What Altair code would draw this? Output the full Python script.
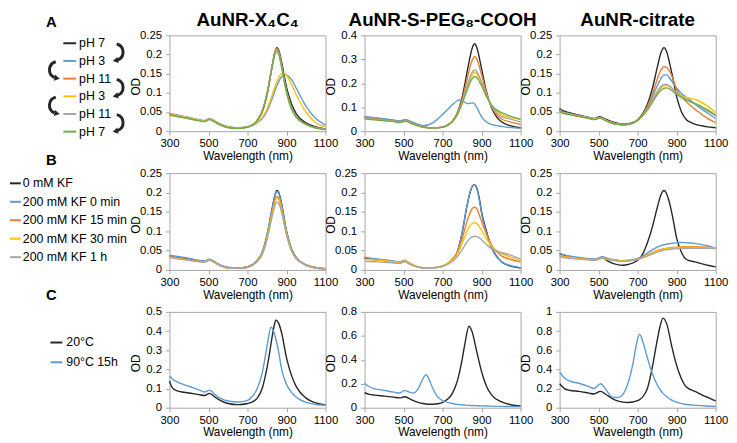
import altair as alt
import pandas as pd

FONT = "Liberation Sans"
BLACK = "#262626"
BLUE = "#5B9BD5"
ORANGE = "#ED7D31"
YELLOW = "#FFC000"
GREY = "#A5A5A5"
GREEN = "#70AD47"
PALETTE = [BLACK, BLUE, ORANGE, YELLOW, GREY, GREEN]

COL_TITLES = ["AuNR-X\u2084C\u2084", "AuNR-S-PEG\u2088-COOH", "AuNR-citrate"]
A_LABELS = ["pH 7", "pH 3", "pH 11", "pH 3", "pH 11", "pH 7"]
B_LABELS = ["0 mM KF", "200 mM KF 0 min", "200 mM KF 15 min", "200 mM KF 30 min", "200 mM KF 1 h"]
C_LABELS = ["20\u00b0C", "90\u00b0C 15h"]

X_TICKS = [300, 500, 700, 900, 1100]
Y_TICKS_025 = [0, 0.05, 0.1, 0.15, 0.2, 0.25]
Y_TICKS_04 = [0, 0.1, 0.2, 0.3, 0.4]
Y_TICKS_05 = [0, 0.1, 0.2, 0.3, 0.4, 0.5]
Y_TICKS_08 = [0, 0.2, 0.4, 0.6, 0.8]
Y_TICKS_1 = [0, 0.2, 0.4, 0.6, 0.8, 1]

# ---------------- Row A : pH cycling ----------------
A1_WL = [300, 350, 400, 450, 480, 505, 530, 560, 600, 650, 700, 750, 775, 800, 825, 840, 850, 860, 875, 890, 900, 925, 950, 1000, 1050, 1100]
A1_PH7 = [0.045, 0.040, 0.035, 0.029, 0.027, 0.032, 0.026, 0.018, 0.011, 0.008, 0.011, 0.028, 0.050, 0.095, 0.165, 0.205, 0.218, 0.212, 0.180, 0.140, 0.115, 0.072, 0.045, 0.022, 0.011, 0.006]
A1_PH3 = [0.046, 0.041, 0.036, 0.030, 0.028, 0.033, 0.027, 0.019, 0.012, 0.009, 0.011, 0.022, 0.033, 0.052, 0.083, 0.105, 0.118, 0.130, 0.142, 0.148, 0.147, 0.135, 0.112, 0.065, 0.033, 0.016]
A1_PH11 = [0.044, 0.039, 0.034, 0.028, 0.026, 0.031, 0.025, 0.017, 0.010, 0.008, 0.011, 0.029, 0.052, 0.098, 0.168, 0.206, 0.216, 0.208, 0.173, 0.130, 0.105, 0.062, 0.038, 0.018, 0.009, 0.005]
A1_PH3B = [0.045, 0.040, 0.035, 0.029, 0.027, 0.032, 0.026, 0.018, 0.011, 0.008, 0.011, 0.024, 0.036, 0.058, 0.092, 0.115, 0.128, 0.140, 0.150, 0.151, 0.146, 0.122, 0.095, 0.050, 0.022, 0.011]
A1_PH11B = [0.043, 0.038, 0.033, 0.028, 0.026, 0.031, 0.025, 0.017, 0.010, 0.008, 0.011, 0.029, 0.052, 0.097, 0.166, 0.203, 0.212, 0.205, 0.171, 0.128, 0.104, 0.061, 0.037, 0.018, 0.009, 0.005]
A1_PH7B = [0.042, 0.037, 0.032, 0.027, 0.025, 0.030, 0.024, 0.016, 0.009, 0.007, 0.010, 0.028, 0.051, 0.097, 0.165, 0.200, 0.208, 0.200, 0.166, 0.124, 0.100, 0.058, 0.036, 0.017, 0.008, 0.004]

A2_WL = [300, 350, 400, 450, 480, 510, 540, 570, 600, 650, 700, 725, 750, 775, 790, 800, 815, 830, 845, 855, 865, 875, 890, 900, 925, 950, 975, 1000, 1050, 1100]
A2_PH7 = [0.060, 0.054, 0.050, 0.045, 0.041, 0.046, 0.036, 0.026, 0.019, 0.014, 0.017, 0.025, 0.042, 0.075, 0.110, 0.140, 0.200, 0.265, 0.325, 0.355, 0.365, 0.350, 0.300, 0.260, 0.165, 0.100, 0.062, 0.040, 0.022, 0.014]
A2_PH3 = [0.062, 0.056, 0.051, 0.046, 0.043, 0.048, 0.040, 0.030, 0.023, 0.035, 0.070, 0.090, 0.110, 0.127, 0.131, 0.128, 0.120, 0.115, 0.117, 0.118, 0.113, 0.100, 0.075, 0.060, 0.038, 0.028, 0.023, 0.020, 0.015, 0.012]
A2_PH11 = [0.058, 0.052, 0.048, 0.043, 0.039, 0.044, 0.035, 0.025, 0.018, 0.014, 0.017, 0.025, 0.041, 0.072, 0.105, 0.130, 0.180, 0.232, 0.280, 0.302, 0.312, 0.302, 0.265, 0.235, 0.160, 0.105, 0.070, 0.052, 0.038, 0.028]
A2_PH3B = [0.055, 0.049, 0.045, 0.041, 0.037, 0.042, 0.033, 0.024, 0.017, 0.013, 0.016, 0.024, 0.040, 0.069, 0.098, 0.118, 0.155, 0.192, 0.225, 0.240, 0.245, 0.240, 0.218, 0.200, 0.150, 0.110, 0.085, 0.070, 0.058, 0.047]
A2_PH11B = [0.056, 0.050, 0.046, 0.042, 0.038, 0.043, 0.034, 0.024, 0.017, 0.013, 0.016, 0.024, 0.040, 0.070, 0.100, 0.120, 0.160, 0.200, 0.235, 0.250, 0.255, 0.250, 0.225, 0.205, 0.150, 0.105, 0.078, 0.062, 0.050, 0.038]
A2_PH7B = [0.052, 0.047, 0.043, 0.040, 0.036, 0.041, 0.032, 0.023, 0.016, 0.013, 0.016, 0.024, 0.040, 0.068, 0.095, 0.113, 0.148, 0.180, 0.210, 0.223, 0.228, 0.224, 0.205, 0.190, 0.145, 0.110, 0.090, 0.078, 0.062, 0.050]

A3_WL = [300, 310, 350, 400, 450, 480, 505, 530, 560, 600, 630, 660, 700, 725, 750, 775, 800, 820, 835, 850, 865, 880, 900, 925, 950, 975, 1000, 1050, 1100]
A3_PH7 = [0.060, 0.055, 0.048, 0.042, 0.036, 0.033, 0.038, 0.033, 0.026, 0.020, 0.018, 0.020, 0.030, 0.045, 0.070, 0.110, 0.165, 0.205, 0.218, 0.205, 0.175, 0.140, 0.090, 0.050, 0.030, 0.022, 0.017, 0.012, 0.009]
A3_PH3 = [0.058, 0.052, 0.046, 0.040, 0.035, 0.032, 0.036, 0.031, 0.024, 0.018, 0.017, 0.019, 0.029, 0.042, 0.062, 0.088, 0.118, 0.138, 0.147, 0.147, 0.138, 0.127, 0.112, 0.098, 0.088, 0.079, 0.068, 0.050, 0.033]
A3_PH11 = [0.056, 0.051, 0.045, 0.040, 0.035, 0.032, 0.036, 0.031, 0.024, 0.018, 0.017, 0.019, 0.029, 0.043, 0.065, 0.095, 0.135, 0.160, 0.168, 0.166, 0.155, 0.138, 0.108, 0.090, 0.077, 0.065, 0.055, 0.036, 0.022]
A3_PH3B = [0.054, 0.049, 0.044, 0.039, 0.034, 0.031, 0.035, 0.030, 0.023, 0.018, 0.017, 0.019, 0.028, 0.040, 0.056, 0.077, 0.100, 0.113, 0.118, 0.119, 0.116, 0.110, 0.101, 0.093, 0.088, 0.085, 0.082, 0.068, 0.048]
A3_PH11B = [0.055, 0.050, 0.044, 0.039, 0.034, 0.031, 0.035, 0.030, 0.023, 0.018, 0.017, 0.019, 0.028, 0.040, 0.058, 0.080, 0.103, 0.117, 0.122, 0.122, 0.118, 0.110, 0.100, 0.090, 0.082, 0.076, 0.070, 0.055, 0.040]
A3_PH7B = [0.052, 0.048, 0.043, 0.038, 0.033, 0.030, 0.034, 0.029, 0.022, 0.017, 0.016, 0.018, 0.028, 0.040, 0.055, 0.075, 0.095, 0.107, 0.112, 0.113, 0.110, 0.104, 0.096, 0.088, 0.081, 0.076, 0.071, 0.058, 0.042]

# ---------------- Row B : KF ----------------
B1_WL = [300, 350, 400, 450, 480, 505, 530, 560, 600, 650, 700, 750, 775, 800, 825, 840, 850, 860, 875, 900, 925, 950, 1000, 1050, 1100]
B1_KF0 = [0.035, 0.031, 0.027, 0.023, 0.022, 0.027, 0.021, 0.012, 0.006, 0.005, 0.008, 0.025, 0.045, 0.090, 0.155, 0.192, 0.205, 0.200, 0.170, 0.100, 0.055, 0.032, 0.013, 0.006, 0.003]
B1_0MIN = [0.038, 0.034, 0.030, 0.025, 0.023, 0.028, 0.022, 0.013, 0.007, 0.005, 0.008, 0.025, 0.045, 0.090, 0.154, 0.190, 0.203, 0.198, 0.168, 0.100, 0.055, 0.032, 0.013, 0.006, 0.003]
B1_15MIN = [0.034, 0.030, 0.026, 0.022, 0.021, 0.026, 0.020, 0.011, 0.005, 0.004, 0.007, 0.023, 0.042, 0.085, 0.145, 0.178, 0.190, 0.186, 0.158, 0.095, 0.052, 0.030, 0.012, 0.005, 0.002]
B1_30MIN = [0.033, 0.029, 0.025, 0.022, 0.021, 0.026, 0.020, 0.011, 0.005, 0.004, 0.007, 0.023, 0.041, 0.083, 0.142, 0.174, 0.186, 0.182, 0.155, 0.093, 0.051, 0.030, 0.012, 0.005, 0.002]
B1_1H = [0.032, 0.028, 0.025, 0.021, 0.020, 0.025, 0.019, 0.011, 0.005, 0.004, 0.007, 0.022, 0.039, 0.078, 0.135, 0.165, 0.175, 0.172, 0.148, 0.090, 0.050, 0.029, 0.012, 0.005, 0.002]

B2_WL = [300, 350, 400, 450, 480, 505, 530, 560, 600, 650, 700, 750, 775, 800, 825, 845, 855, 865, 875, 890, 900, 925, 950, 1000, 1050, 1100]
B2_KF0 = [0.030, 0.027, 0.025, 0.022, 0.020, 0.024, 0.017, 0.010, 0.006, 0.006, 0.010, 0.028, 0.045, 0.095, 0.165, 0.207, 0.218, 0.220, 0.212, 0.180, 0.150, 0.100, 0.060, 0.022, 0.010, 0.005]
B2_0MIN = [0.033, 0.029, 0.026, 0.023, 0.021, 0.025, 0.018, 0.010, 0.006, 0.006, 0.010, 0.028, 0.046, 0.096, 0.166, 0.207, 0.218, 0.220, 0.210, 0.176, 0.145, 0.095, 0.057, 0.022, 0.011, 0.006]
B2_15MIN = [0.028, 0.026, 0.024, 0.021, 0.020, 0.023, 0.017, 0.010, 0.006, 0.006, 0.010, 0.028, 0.045, 0.080, 0.125, 0.152, 0.160, 0.162, 0.158, 0.140, 0.125, 0.092, 0.065, 0.037, 0.027, 0.020]
B2_30MIN = [0.028, 0.026, 0.024, 0.021, 0.020, 0.023, 0.017, 0.010, 0.006, 0.006, 0.010, 0.026, 0.040, 0.068, 0.100, 0.117, 0.121, 0.122, 0.120, 0.110, 0.102, 0.080, 0.062, 0.043, 0.033, 0.023]
B2_1H = [0.022, 0.021, 0.020, 0.018, 0.017, 0.021, 0.015, 0.009, 0.005, 0.005, 0.009, 0.022, 0.034, 0.052, 0.072, 0.083, 0.086, 0.087, 0.086, 0.082, 0.078, 0.066, 0.055, 0.045, 0.038, 0.027]

B3_WL = [300, 350, 400, 450, 480, 520, 550, 600, 625, 650, 700, 725, 750, 775, 800, 820, 835, 850, 865, 880, 900, 925, 950, 1000, 1050, 1100]
B3_KF0 = [0.042, 0.034, 0.031, 0.028, 0.027, 0.032, 0.022, 0.013, 0.012, 0.014, 0.025, 0.040, 0.070, 0.110, 0.160, 0.195, 0.205, 0.195, 0.170, 0.135, 0.082, 0.045, 0.027, 0.020, 0.013, 0.008]
B3_0MIN = [0.042, 0.036, 0.032, 0.029, 0.028, 0.034, 0.029, 0.025, 0.024, 0.025, 0.030, 0.036, 0.044, 0.052, 0.059, 0.063, 0.065, 0.067, 0.068, 0.069, 0.070, 0.071, 0.070, 0.068, 0.063, 0.057]
B3_15MIN = [0.038, 0.033, 0.030, 0.027, 0.026, 0.032, 0.028, 0.024, 0.023, 0.024, 0.028, 0.033, 0.039, 0.045, 0.050, 0.053, 0.055, 0.056, 0.057, 0.058, 0.059, 0.060, 0.060, 0.060, 0.059, 0.057]
B3_30MIN = [0.037, 0.032, 0.029, 0.027, 0.026, 0.031, 0.027, 0.024, 0.023, 0.024, 0.028, 0.032, 0.038, 0.044, 0.049, 0.052, 0.054, 0.055, 0.056, 0.057, 0.058, 0.059, 0.059, 0.059, 0.058, 0.057]
B3_1H = [0.034, 0.030, 0.028, 0.026, 0.025, 0.030, 0.026, 0.023, 0.022, 0.023, 0.027, 0.031, 0.036, 0.041, 0.046, 0.049, 0.051, 0.052, 0.053, 0.054, 0.055, 0.056, 0.056, 0.056, 0.056, 0.055]

# ---------------- Row C : temperature ----------------
C1_WL = [300, 310, 325, 350, 400, 450, 480, 505, 530, 560, 600, 650, 700, 725, 750, 775, 790, 805, 820, 835, 845, 860, 875, 900, 925, 950, 1000, 1050, 1100]
C1_20C = [0.140, 0.112, 0.095, 0.085, 0.077, 0.068, 0.064, 0.075, 0.058, 0.038, 0.022, 0.016, 0.022, 0.030, 0.050, 0.100, 0.160, 0.235, 0.330, 0.420, 0.457, 0.440, 0.390, 0.260, 0.170, 0.110, 0.050, 0.025, 0.014]
C1_90C = [0.165, 0.155, 0.143, 0.130, 0.112, 0.093, 0.082, 0.092, 0.072, 0.050, 0.035, 0.030, 0.038, 0.060, 0.100, 0.180, 0.260, 0.350, 0.420, 0.395, 0.360, 0.290, 0.200, 0.123, 0.080, 0.055, 0.028, 0.017, 0.013]

C2_WL = [300, 325, 350, 400, 450, 480, 505, 530, 550, 575, 600, 615, 630, 650, 675, 700, 750, 775, 800, 815, 835, 850, 875, 900, 925, 950, 1000, 1050, 1100]
C2_20C = [0.125, 0.112, 0.105, 0.097, 0.088, 0.082, 0.092, 0.075, 0.060, 0.045, 0.035, 0.031, 0.029, 0.029, 0.033, 0.045, 0.120, 0.220, 0.400, 0.540, 0.680, 0.640, 0.470, 0.300, 0.180, 0.110, 0.050, 0.025, 0.015]
C2_90C = [0.205, 0.175, 0.160, 0.145, 0.130, 0.123, 0.145, 0.130, 0.122, 0.160, 0.245, 0.275, 0.240, 0.160, 0.090, 0.058, 0.035, 0.028, 0.024, 0.022, 0.020, 0.019, 0.017, 0.015, 0.014, 0.013, 0.011, 0.010, 0.009]

C3_WL = [300, 325, 350, 400, 450, 475, 510, 540, 570, 600, 625, 650, 675, 690, 700, 710, 725, 750, 775, 800, 815, 830, 850, 875, 900, 925, 950, 1000, 1050, 1100]
C3_20C = [0.250, 0.200, 0.182, 0.170, 0.152, 0.143, 0.170, 0.135, 0.095, 0.068, 0.058, 0.055, 0.060, 0.068, 0.075, 0.085, 0.110, 0.200, 0.420, 0.700, 0.850, 0.935, 0.870, 0.640, 0.440, 0.300, 0.215, 0.165, 0.115, 0.070]
C3_90C = [0.370, 0.310, 0.280, 0.255, 0.220, 0.200, 0.250, 0.180, 0.110, 0.105, 0.140, 0.250, 0.450, 0.620, 0.720, 0.765, 0.700, 0.520, 0.360, 0.240, 0.190, 0.150, 0.115, 0.080, 0.058, 0.043, 0.034, 0.025, 0.018, 0.013]

# ---------------- layout constants ----------------
PLOT_W = 158
LEG_W = 122.5
COL_SPACING = 39.5
ROW_SPACING = 42.5
LEG_FONT = 12.5


def spectrum_panel(wl, series, ymax, yticks, h, title=None):
    rows = []
    names = []
    for i, vals in enumerate(series):
        key = "s%d" % i
        names.append(key)
        for w, v in zip(wl, vals):
            rows.append({"wl": w, "od": v, "s": key})
    df = pd.DataFrame(rows)
    lines = alt.Chart(df).mark_line(strokeWidth=1.4, interpolate="monotone").encode(
        x=alt.X("wl:Q", scale=alt.Scale(domain=[300, 1100], nice=False, zero=False),
                axis=alt.Axis(values=X_TICKS, format="d", title="Wavelength (nm)", labelFlush=False,
                              labelOverlap=False, labelPadding=3, titlePadding=1)),
        y=alt.Y("od:Q", scale=alt.Scale(domain=[0, ymax], nice=False),
                axis=alt.Axis(values=yticks, format="~g", title="OD", labelOverlap=False,
                              labelPadding=4, titleX=-27, titleY=h / 2 + 3)),
        color=alt.Color("s:N", scale=alt.Scale(domain=names, range=PALETTE[:len(series)]), legend=None),
    )
    if title is None:
        return lines.properties(width=PLOT_W, height=h)
    head = alt.Chart(pd.DataFrame({"t": [title]})).mark_text(
        fontSize=19, fontWeight="bold", font=FONT, align="center", baseline="alphabetic",
        color="black").encode(
        x=alt.value(PLOT_W / 2), y=alt.value(-9), text="t:N")
    return alt.layer(lines, head).properties(width=PLOT_W, height=h)


def legend_panel(letter, letter_x, letter_y, labels, ys, lx0, lx1, tx, h,
                 arc_cx=None, arc_cy=None, arc_t1=None, arc_t2=None,
                 head_x=None, head_y=None, head_a=None):
    xs = alt.Scale(domain=[0, LEG_W], range=[0, LEG_W])
    yscale = alt.Scale(domain=[0, h], range=[0, h])
    n = len(labels)
    items = pd.DataFrame({"y": ys, "label": labels, "c": PALETTE[:n],
                          "x0": [lx0] * n, "x1": [lx1] * n, "tx": [tx] * n})
    rules = alt.Chart(items).mark_rule(strokeWidth=2).encode(
        x=alt.X("x0:Q", scale=xs, axis=None), x2="x1:Q",
        y=alt.Y("y:Q", scale=yscale, axis=None),
        color=alt.Color("c:N", scale=None))
    texts = alt.Chart(items).mark_text(align="left", baseline="middle", fontSize=LEG_FONT,
                                       font=FONT, color="black").encode(
        x=alt.X("tx:Q", scale=xs, axis=None),
        y=alt.Y("y:Q", scale=yscale, axis=None),
        text="label:N")
    let = alt.Chart(pd.DataFrame({"x": [letter_x], "y": [letter_y], "t": [letter]})).mark_text(
        fontSize=15, fontWeight="bold", font=FONT, align="center", baseline="middle",
        color="black").encode(
        x=alt.X("x:Q", scale=xs, axis=None),
        y=alt.Y("y:Q", scale=yscale, axis=None),
        text="t:N")
    layers = [rules, texts, let]
    if arc_cx is not None:
        arcs = alt.Chart(pd.DataFrame({"cx": arc_cx, "cy": arc_cy, "t1": arc_t1, "t2": arc_t2})).mark_arc(
            innerRadius=7, outerRadius=10, color=BLACK).encode(
            x=alt.X("cx:Q", scale=xs, axis=None),
            y=alt.Y("cy:Q", scale=yscale, axis=None),
            theta=alt.Theta("t1:Q", scale=None, stack=False),
            theta2="t2:Q")
        heads = alt.Chart(pd.DataFrame({"hx": head_x, "hy": head_y, "a": head_a})).mark_point(
            shape="triangle", filled=True, size=40, color=BLACK, opacity=1).encode(
            x=alt.X("hx:Q", scale=xs, axis=None),
            y=alt.Y("hy:Q", scale=yscale, axis=None),
            angle=alt.Angle("a:Q", scale=None))
        layers += [arcs, heads]
    return alt.layer(*layers).properties(width=LEG_W, height=h,
                                         view=alt.ViewBackground(stroke="transparent"))


HA, HB, HC = 97, 98, 97

# Row A legend (with cycling arrows)
A_Y = [8.0, 25.9, 43.8, 61.7, 79.6, 97.5]
legA = legend_panel("A", 43, -13, A_LABELS, A_Y, 55, 68, 71, HA,
                    arc_cx=[107, 107, 107, 49.5, 49.5],
                    arc_cy=[17.0, 52.8, 88.5, 34.9, 70.7],
                    arc_t1=[0.25, 0.25, 0.25, 3.55, 3.55],
                    arc_t2=[2.8, 2.8, 2.8, 6.03, 6.03],
                    head_x=[108.6, 108.6, 108.6, 47.8, 47.8],
                    head_y=[25.3, 61.1, 96.8, 43.2, 79.0],
                    head_a=[259, 259, 259, 101, 101])
legB = legend_panel("B", 43, -13, B_LABELS, [10.3, 29.0, 47.7, 66.4, 85.1], 1, 12, 14, HB)
legC = legend_panel("C", 43, -17, C_LABELS, [31, 51], 42, 54, 58, HC)

pA1 = spectrum_panel(A1_WL, [A1_PH7, A1_PH3, A1_PH11, A1_PH3B, A1_PH11B, A1_PH7B], 0.25, Y_TICKS_025, HA, COL_TITLES[0])
pA2 = spectrum_panel(A2_WL, [A2_PH7, A2_PH3, A2_PH11, A2_PH3B, A2_PH11B, A2_PH7B], 0.4, Y_TICKS_04, HA, COL_TITLES[1])
pA3 = spectrum_panel(A3_WL, [A3_PH7, A3_PH3, A3_PH11, A3_PH3B, A3_PH11B, A3_PH7B], 0.25, Y_TICKS_025, HA, COL_TITLES[2])

pB1 = spectrum_panel(B1_WL, [B1_KF0, B1_0MIN, B1_15MIN, B1_30MIN, B1_1H], 0.25, Y_TICKS_025, HB)
pB2 = spectrum_panel(B2_WL, [B2_KF0, B2_0MIN, B2_15MIN, B2_30MIN, B2_1H], 0.25, Y_TICKS_025, HB)
pB3 = spectrum_panel(B3_WL, [B3_KF0, B3_0MIN, B3_15MIN, B3_30MIN, B3_1H], 0.25, Y_TICKS_025, HB)

pC1 = spectrum_panel(C1_WL, [C1_20C, C1_90C], 0.5, Y_TICKS_05, HC)
pC2 = spectrum_panel(C2_WL, [C2_20C, C2_90C], 0.8, Y_TICKS_08, HC)
pC3 = spectrum_panel(C3_WL, [C3_20C, C3_90C], 1, Y_TICKS_1, HC)

chart = alt.concat(
    legA, pA1, pA2, pA3,
    legB, pB1, pB2, pB3,
    legC, pC1, pC2, pC3,
    columns=4,
    spacing={"row": ROW_SPACING, "column": COL_SPACING},
    bounds="flush",
    align="each",
).properties(
    padding=0
).configure_view(
    stroke="#A6A6A6", strokeWidth=1
).configure_axis(
    grid=False, domain=False, tickColor="#A6A6A6", tickSize=4,
    labelFont=FONT, titleFont=FONT, labelColor="black", titleColor="black",
    labelFontSize=11.5, titleFontSize=12, titleFontWeight="normal"
)

chart.save("out.html", embed_options={"renderer": "svg", "actions": False})
